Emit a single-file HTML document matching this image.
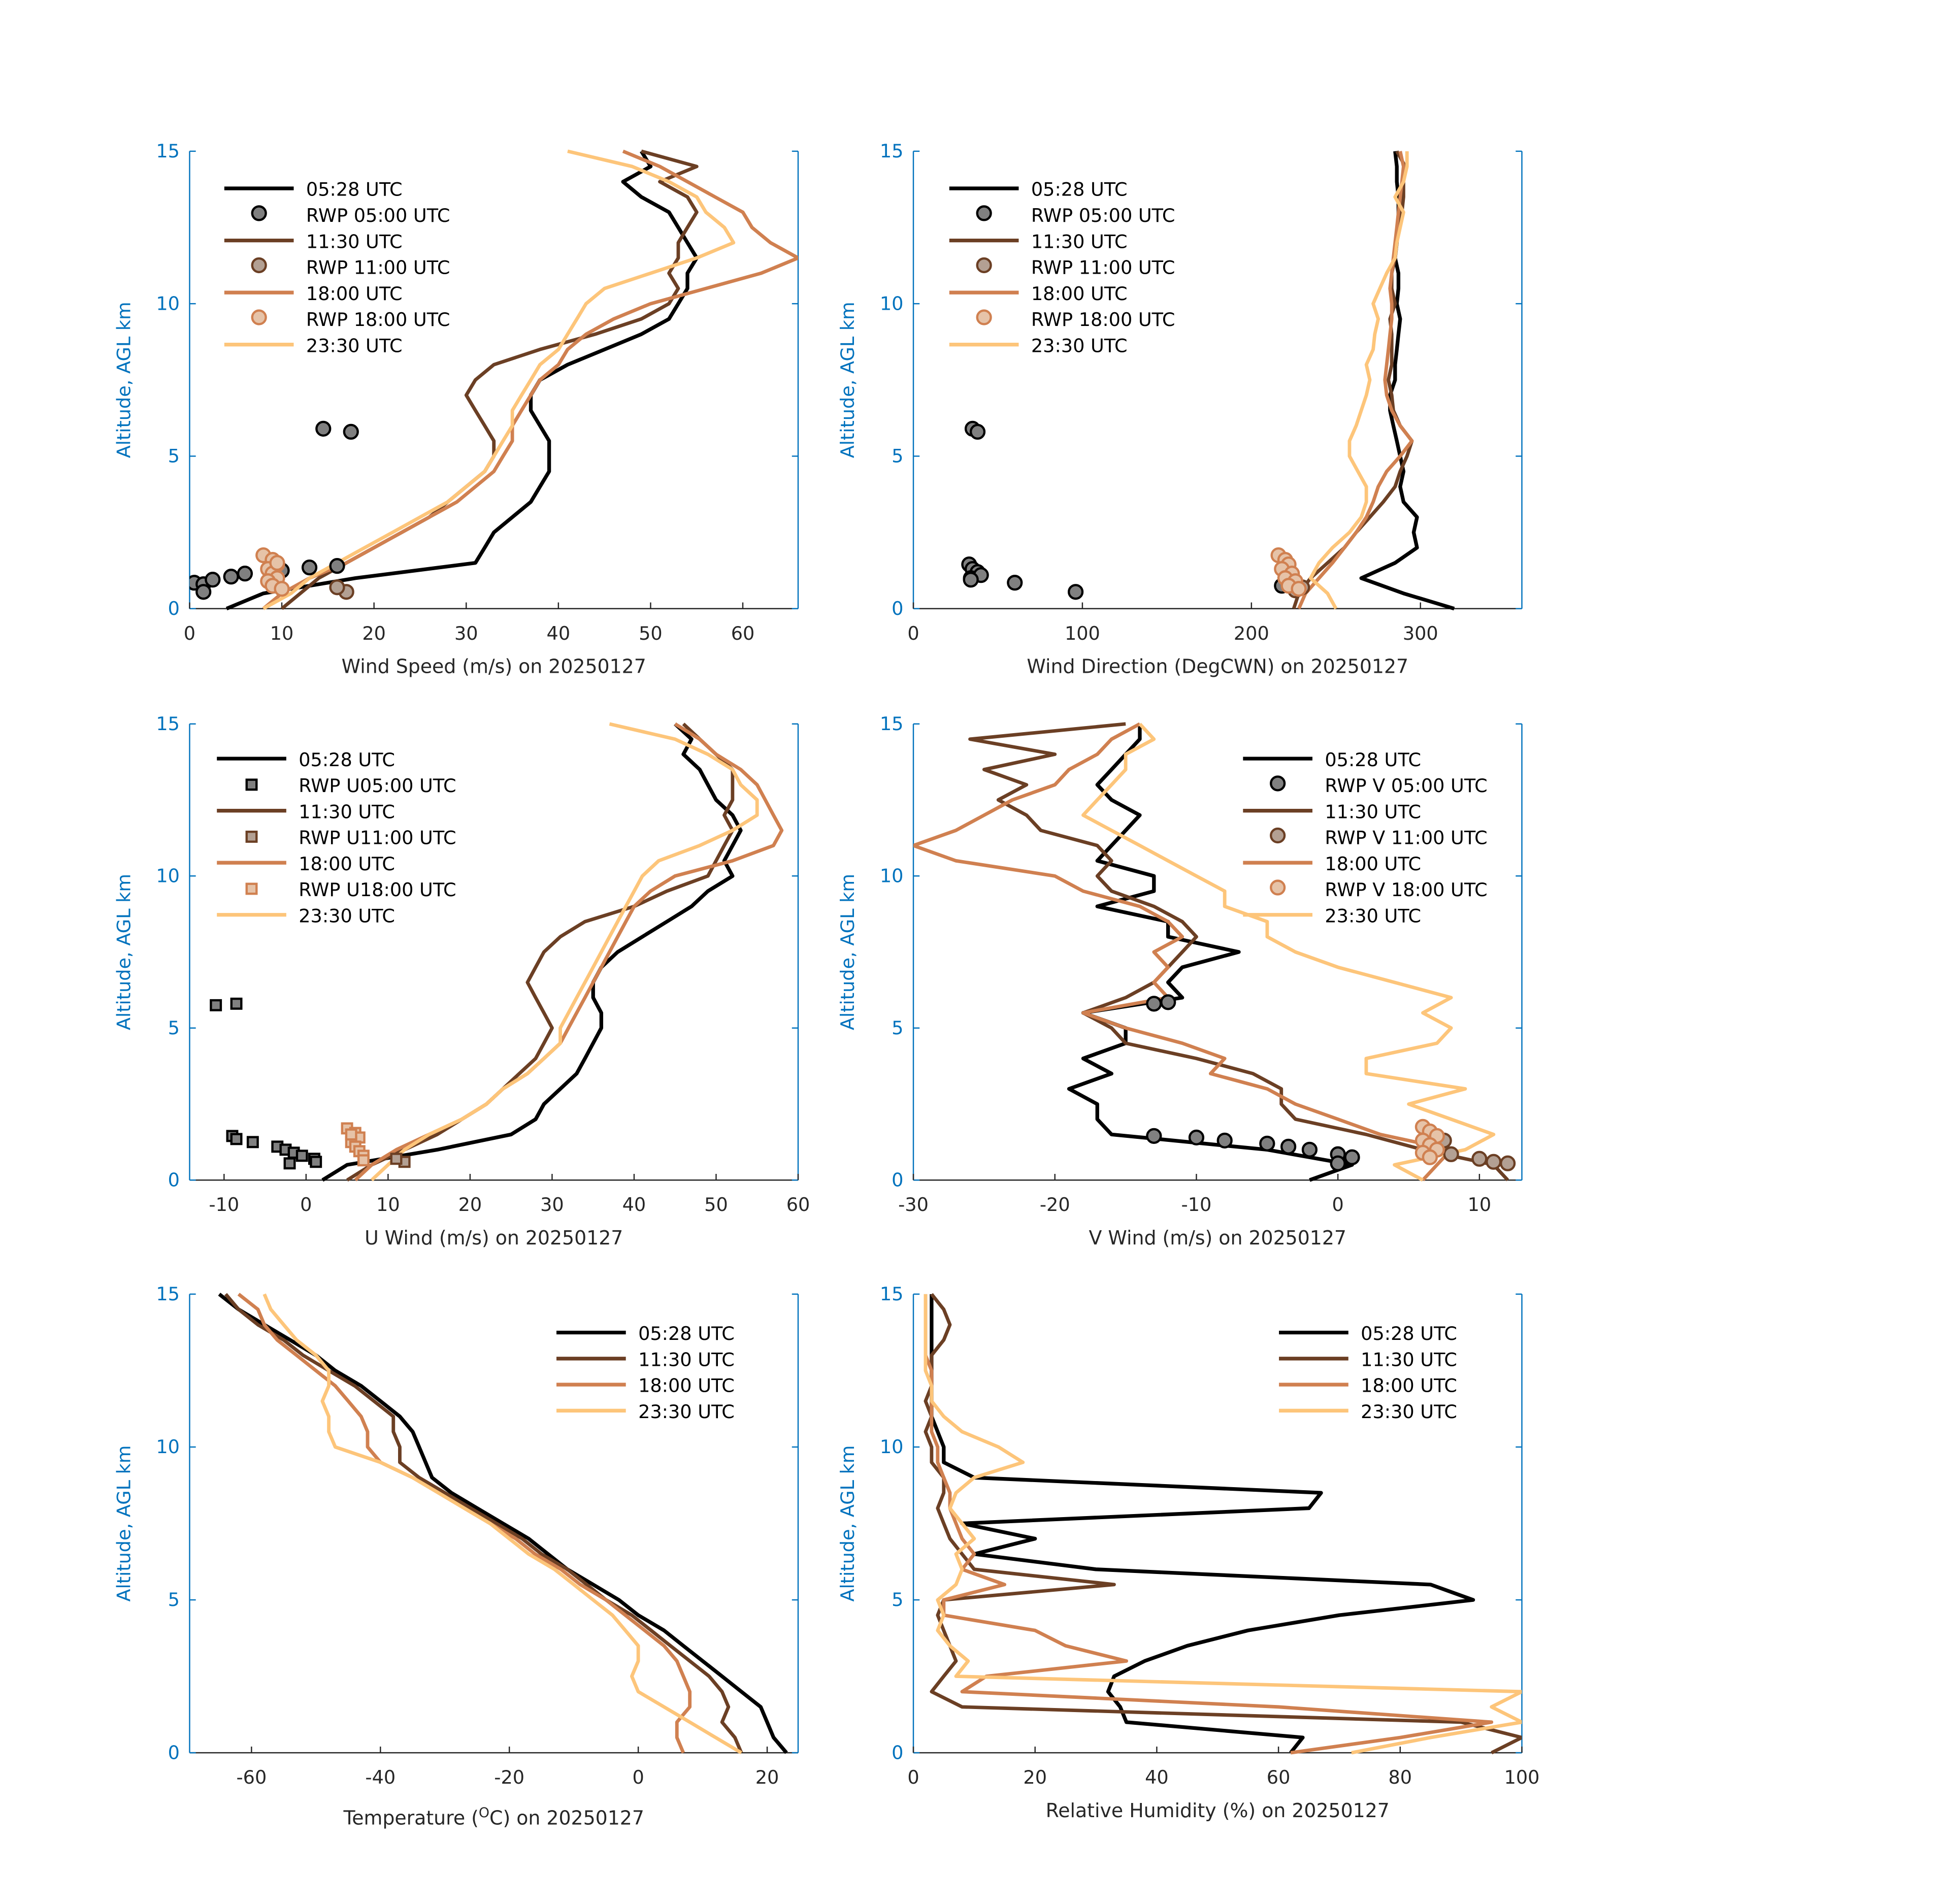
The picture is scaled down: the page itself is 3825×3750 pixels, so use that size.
<!DOCTYPE html>
<html><head><meta charset="utf-8"><style>
html,body{margin:0;padding:0;background:#fff}
svg{display:block}
text{font-family:"DejaVu Sans","Liberation Sans",sans-serif}
</style></head><body>
<svg id="fig" xmlns="http://www.w3.org/2000/svg" width="3825" height="3750" viewBox="0 0 1567 1536" preserveAspectRatio="none"></svg>
<script>
const alts=[0,0.5,1,1.5,2,2.5,3,3.5,4,4.5,5,5.5,6,6.5,7,7.5,8,8.5,9,9.5,10,10.5,11,11.5,12,12.5,13,13.5,14,14.5,15];
const seriesNames=["05:28 UTC","11:30 UTC","18:00 UTC","23:30 UTC"];
const spdBlack=[4,8,18,31,32,33,35,37,38,39,39,39,38,37,37,38,41,45,49,52,53,54,54,55,54,53,52,49,47,50,49];
const spdBrown=[10,12,14,17,20,23,26,28,30,32,33,33,32,31,30,31,33,38,44,49,52,53,52,53,53,54,55,54,51,55,49];
const spdCopper=[8,10,13,17,20,23,26,29,31,33,34,35,35,36,37,38,40,41,43,46,50,56,62,66,63,61,60,57,54,51,47];
const spdLight=[8,11,13,16,19,22,25,28,30,32,33,34,35,35,36,37,38,40,41,42,43,45,50,55,59,58,56,55,52,48,41];
const spdRwp05=[[0.5,0.85],[1.5,0.8],[2.5,0.95],[4.5,1.05],[6,1.15],[10,1.25],[13,1.35],[1.5,0.55],[14.5,5.9],[17.5,5.8],[16,1.4]];
const spdRwp11=[[17,0.55],[16,0.7]];
const spdRwp18=[[8,1.75],[9,1.6],[9.5,1.45],[8.5,1.3],[9,1.15],[9.5,1.0],[8.5,0.9],[9,0.75],[10,0.65],[9.5,1.5]];
const dirBlack=[320,290,265,285,298,296,298,290,288,290,288,286,284,282,282,285,285,286,287,288,286,287,287,285,286,287,287,287,286,286,285];
const dirBrown=[225,228,235,245,255,262,270,278,285,288,292,295,288,284,283,281,283,283,283,282,285,283,283,285,286,287,289,290,290,291,286];
const dirCopper=[228,232,240,248,255,262,268,272,275,280,288,295,288,283,280,279,280,281,282,283,283,282,283,284,285,286,287,288,289,290,288];
const dirLight=[250,245,235,240,248,258,265,268,268,263,258,258,262,265,268,270,268,272,273,275,272,276,280,285,286,288,290,285,290,292,292];
const dirRwp05=[[33,1.45],[35,1.3],[38,1.2],[34,1.0],[40,1.1],[60,0.85],[96,0.55],[35,5.9],[38,5.8],[34,0.95],[218,0.75]];
const dirRwp11=[[230,0.7],[226,0.6]];
const dirRwp18=[[216,1.75],[220,1.6],[222,1.45],[218,1.3],[224,1.15],[220,1.0],[226,0.9],[222,0.75],[228,0.65]];
const uBlack=[2,5,16,25,28,29,31,33,34,35,36,36,35,35,36,38,41,44,47,49,52,51,52,53,52,50,49,48,46,47,45];
const uBrown=[5,8,12,16,19,22,24,26,28,29,30,29,28,27,28,29,31,34,40,44,49,50,51,52,51,52,52,52,50,48,46];
const uCopper=[6,8,11,15,19,22,24,27,29,31,32,33,34,35,36,37,38,39,40,42,45,52,57,58,57,56,55,53,50,48,45];
const uLight=[8,10,12,15,19,22,24,27,29,31,31,32,33,34,35,36,37,38,39,40,41,43,48,52,55,55,53,52,49,45,37];
const uRwp05=[[-11,5.75],[-8.5,5.8],[-9,1.45],[-8.5,1.35],[-6.5,1.25],[-3.5,1.1],[-2.5,1.0],[-1.5,0.9],[-2,0.55],[-0.5,0.8],[1,0.7],[1.2,0.6]];
const uRwp11=[[12,0.6],[11,0.7]];
const uRwp18=[[5,1.7],[6,1.55],[6.5,1.4],[5.5,1.25],[6,1.1],[6.5,0.95],[7,0.8],[7,0.65],[5.5,1.5]];
const vBlack=[-2,1,-5,-16,-17,-17,-19,-16,-18,-15,-15,-18,-11,-12,-11,-7,-12,-12,-17,-13,-13,-17,-16,-15,-14,-16,-17,-16,-15,-14,-14];
const vBrown=[12,11,6,2,-3,-4,-4,-6,-10,-15,-16,-18,-15,-13,-12,-11,-10,-11,-13,-16,-17,-16,-17,-21,-22,-24,-22,-25,-20,-26,-15];
const vCopper=[6,7,8,3,0,-3,-5,-9,-8,-11,-15,-18,-12,-13,-12,-13,-11,-12,-14,-18,-20,-27,-30,-27,-25,-23,-20,-19,-17,-16,-14];
const vLight=[6,4,9,11,8,5,9,2,2,7,8,6,8,4,0,-3,-5,-5,-8,-8,-10,-12,-14,-16,-18,-17,-16,-15,-15,-13,-14];
const vRwp05=[[-13,1.45],[-10,1.4],[-8,1.3],[-5,1.2],[-3.5,1.1],[-2,1.0],[0,0.85],[1,0.75],[0,0.55],[-13,5.8],[-12,5.85]];
const vRwp11=[[11,0.6],[12,0.55],[8,0.85],[10,0.7],[7.5,1.3]];
const vRwp18=[[6,1.75],[6.5,1.6],[7,1.45],[6,1.3],[6.5,1.15],[7,1.0],[6,0.9],[6.5,0.75]];
const tBlack=[23,21,20,19,16,13,10,7,4,0,-3,-7,-11,-14,-17,-21,-25,-29,-32,-33,-34,-35,-37,-40,-43,-47,-50,-54,-58,-62,-65];
const tBrown=[16,15,13,14,13,11,8,5,2,-1,-5,-8,-11,-15,-18,-22,-26,-30,-34,-37,-37,-38,-38,-41,-44,-48,-52,-55,-59,-62,-64];
const tCopper=[7,6,6,8,8,7,6,4,1,-2,-5,-9,-12,-16,-19,-23,-27,-31,-35,-40,-42,-42,-43,-45,-47,-50,-53,-56,-58,-59,-62];
const tLight=[16,12,8,4,0,-1,0,0,-2,-4,-7,-10,-13,-17,-20,-23,-27,-31,-35,-40,-47,-48,-48,-49,-48,-48,-50,-53,-55,-57,-58];
const rhBlack=[62,64,35,34,32,33,38,45,55,70,92,85,30,10,20,8,65,67,10,5,5,4,3,3,3,3,3,3,3,3,3];
const rhBrown=[95,100,90,8,3,5,7,6,5,4,5,33,10,8,6,5,4,5,5,3,3,2,3,2,3,3,3,5,6,5,3];
const rhCopper=[62,80,95,60,8,12,35,25,20,5,5,15,8,10,8,7,6,6,5,4,4,3,3,3,3,3,2,2,2,2,2];
const rhLight=[72,85,100,95,100,7,9,6,4,5,4,7,8,7,10,8,6,7,10,18,14,8,5,3,3,2,2,2,2,2,2];

const COL=["#000000","#6b3f24","#d08050","#fdc57a"];
const FILL=["#808080","#b3a093","#e6c3a8"];
const BLUE="#0072BD";
const svg=document.getElementById('fig');
const NS="http://www.w3.org/2000/svg";
function mk(tag,attrs,parent){const e=document.createElementNS(NS,tag);for(const k in attrs)e.setAttribute(k,attrs[k]);(parent||svg).appendChild(e);return e;}
function txt(s,x,y,attrs,parent){const t=mk('text',Object.assign({x:x,y:y,'font-size':15},attrs),parent);t.textContent=s;return t;}

function panel(cfg){
  const g=mk('g',{});
  
  
  const {x0,x1,y0,y1,xmin,xmax}=cfg;
  const sx=v=>x0+(v-xmin)/(xmax-xmin)*(x1-x0);
  const sy=a=>y1-a/15*(y1-y0);
  const yl=mk('line',{x1:x0,y1:y0,x2:x0,y2:y1,stroke:BLUE,'stroke-width':1},g);
  
  mk('line',{x1:x1,y1:y0,x2:x1,y2:y1,stroke:BLUE,'stroke-width':1},g);
  const xl=mk('line',{x1:x0,y1:y1,x2:x1,y2:y1,stroke:'#262626','stroke-width':1},g);
  
  [0,5,10,15].forEach(a=>{
    mk('line',{x1:x0,y1:sy(a),x2:x0+5,y2:sy(a),stroke:BLUE},g);
    mk('line',{x1:x1,y1:sy(a),x2:x1-5,y2:sy(a),stroke:BLUE},g);
    const t=txt(String(a),x0-8,sy(a)+5,{'text-anchor':'end',fill:BLUE},g);
    
  });
  cfg.xticks.forEach(v=>{
    mk('line',{x1:sx(v),y1:y1,x2:sx(v),y2:y1-5,stroke:'#262626'},g);
    const t=txt(String(v),sx(v),y1+25,{'text-anchor':'middle',fill:'#262626'},g);
    
  });
  const yt=txt('Altitude, AGL km',0,0,{'text-anchor':'middle',fill:BLUE,transform:`translate(${x0-48},${(y0+y1)/2}) rotate(-90)`},g);
  
  const xt=mk('text',{x:(x0+x1)/2,y:y1+cfg.xtitleDy,'text-anchor':'middle','font-size':15.5,fill:'#262626'},g);
  xt.innerHTML=cfg.xtitle;
  
  const cid='clip'+cfg.name;
  const cp=mk('clipPath',{id:cid},g);mk('rect',{x:x0,y:y0-2,width:x1-x0,height:y1-y0+4},cp);
  const pg=mk('g',{'clip-path':`url(#${cid})`},g);
  cfg.lines.forEach((arr,i)=>{
    const d=arr.map((v,k)=>(k?'L':'M')+sx(v).toFixed(1)+','+sy(alts[k]).toFixed(1)).join(' ');
    const p=mk('path',{d:d,fill:'none',stroke:COL[i],'stroke-width':i==0?3:2.8,'stroke-linejoin':'round'},pg);
    
    
  });
  (cfg.rwp||[]).forEach((pts,i)=>{
    pts.forEach(pt=>{
      let m;
      if(cfg.square){m=mk('rect',{x:sx(pt[0])-4,y:sy(pt[1])-4,width:8,height:8,fill:FILL[i],stroke:COL[i],'stroke-width':1.8},pg);}
      else{m=mk('circle',{cx:sx(pt[0]),cy:sy(pt[1]),r:5.5,fill:FILL[i],stroke:COL[i],'stroke-width':1.8},pg);}
      
      
    });
  });
  const lg=mk('g',{},g);
  
  const [lx,ly]=cfg.leg;
  cfg.legItems.forEach((it,k)=>{
    const y=ly+k*21;
    if(it.t=='l'){mk('line',{x1:lx,y1:y,x2:lx+56,y2:y,stroke:COL[it.c],'stroke-width':3},lg);}
    else if(cfg.square){mk('rect',{x:lx+24,y:y-4,width:8,height:8,fill:FILL[it.c],stroke:COL[it.c],'stroke-width':1.8},lg);}
    else{mk('circle',{cx:lx+28,cy:y-1,r:5.5,fill:FILL[it.c],stroke:COL[it.c],'stroke-width':1.8},lg);}
    const t=txt(it.s,lx+66,y+6,{fill:'#000'},lg);
    
  });
}
function items(rwpLabels){
  const out=[];
  for(let i=0;i<4;i++){out.push({t:'l',c:i,s:seriesNames[i]});if(rwpLabels&&i<3)out.push({t:'m',c:i,s:rwpLabels[i]});}
  return out;
}
const rwpC=["RWP 05:00 UTC","RWP 11:00 UTC","RWP 18:00 UTC"];
panel({name:'wind-speed-panel',x0:153,x1:644,y0:122,y1:491,xmin:0,xmax:66,xticks:[0,10,20,30,40,50,60],xtitle:'Wind Speed (m/s) on 20250127',xtitleDy:52,
  lines:[spdBlack,spdBrown,spdCopper,spdLight],rwp:[spdRwp05,spdRwp11,spdRwp18],leg:[181,152],legItems:items(rwpC)});
panel({name:'wind-direction-panel',x0:737,x1:1228,y0:122,y1:491,xmin:0,xmax:360,xticks:[0,100,200,300],xtitle:'Wind Direction (DegCWN) on 20250127',xtitleDy:52,
  lines:[dirBlack,dirBrown,dirCopper,dirLight],rwp:[dirRwp05,dirRwp11,dirRwp18],leg:[766,152],legItems:items(rwpC)});
panel({name:'u-wind-panel',x0:153,x1:644,y0:584,y1:952,xmin:-14.2,xmax:60,xticks:[-10,0,10,20,30,40,50,60],xtitle:'U Wind (m/s) on 20250127',xtitleDy:52,square:true,
  lines:[uBlack,uBrown,uCopper,uLight],rwp:[uRwp05,uRwp11,uRwp18],leg:[175,612],legItems:items(["RWP U05:00 UTC","RWP U11:00 UTC","RWP U18:00 UTC"])});
panel({name:'v-wind-panel',x0:737,x1:1228,y0:584,y1:952,xmin:-30,xmax:13,xticks:[-30,-20,-10,0,10],xtitle:'V Wind (m/s) on 20250127',xtitleDy:52,
  lines:[vBlack,vBrown,vCopper,vLight],rwp:[vRwp05,vRwp11,vRwp18],leg:[1003,612],legItems:items(["RWP V 05:00 UTC","RWP V 11:00 UTC","RWP V 18:00 UTC"])});
panel({name:'temperature-panel',x0:153,x1:644,y0:1044,y1:1414,xmin:-69.6,xmax:24.8,xticks:[-60,-40,-20,0,20],xtitle:'Temperature (<tspan font-size="11" dy="-6">O</tspan><tspan dy="6">C) on 20250127</tspan>',xtitleDy:58,
  lines:[tBlack,tBrown,tCopper,tLight],leg:[449,1075],legItems:items(null)});
panel({name:'relative-humidity-panel',x0:737,x1:1228,y0:1044,y1:1414,xmin:0,xmax:100,xticks:[0,20,40,60,80,100],xtitle:'Relative Humidity (%) on 20250127',xtitleDy:52,
  lines:[rhBlack,rhBrown,rhCopper,rhLight],leg:[1032,1075],legItems:items(null)});
</script>
</body></html>
